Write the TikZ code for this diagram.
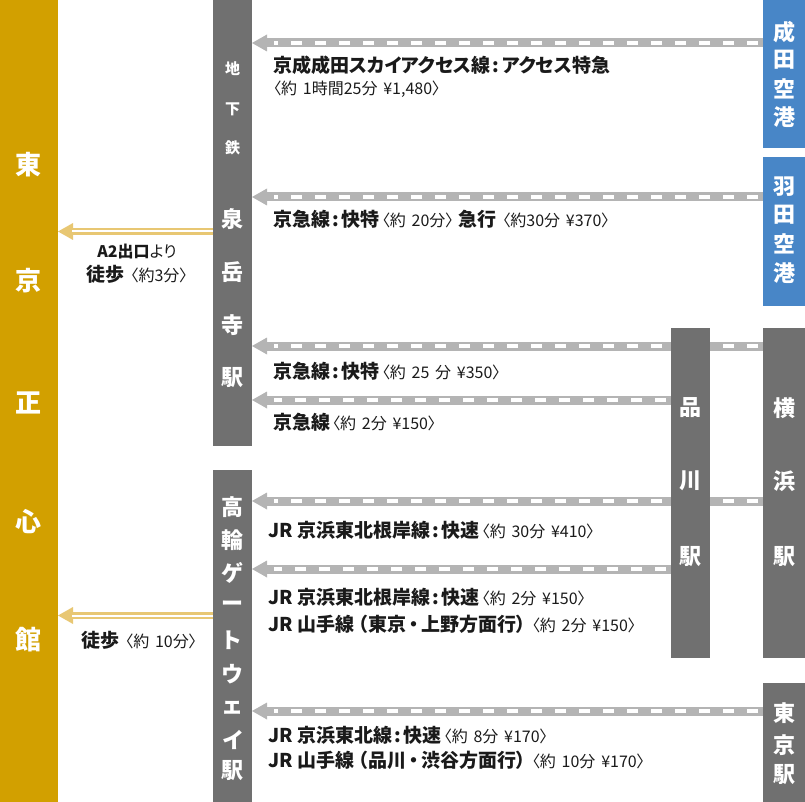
\documentclass[tikz,border=0pt]{standalone}
\usepackage{fontspec}
\setmainfont{Noto Sans CJK JP}[RawFeature=+palt]
\usetikzlibrary{arrows.meta}
\definecolor{goldbar}{RGB}{210,160,0}
\definecolor{stgray}{RGB}{112,112,112}
\definecolor{apblue}{RGB}{72,134,199}
\definecolor{railgray}{RGB}{180,180,180}
\definecolor{walkgold}{RGB}{232,199,115}
\definecolor{txtc}{RGB}{26,26,26}
\pgfdeclarelayer{bg}
\pgfsetlayers{bg,main}
\newcommand\tkB[1]{{\bfseries\fontsize{19}{21}\selectfont #1}}
\newcommand\tkS[1]{{\mdseries\fontsize{16}{18}\selectfont\spaceskip=0.36em\relax #1}}
\newcommand\tkWB[1]{{\bfseries\fontsize{16}{18}\selectfont #1}}
\newcommand\tkWS[1]{{\mdseries\fontsize{16}{18}\selectfont #1}}
\newcommand\tkcolon{\kern2.5pt:\kern2.5pt}
\newcommand\tkdot{\kern3pt・\kern3pt}
\tikzset{
  bar/.style={draw=none, inner sep=0pt, outer sep=0pt, anchor=north west},
  graybar/.style={bar, fill=stgray},
  bluebar/.style={bar, fill=apblue},
  goldrect/.style={bar, fill=goldbar},
  vt/.style={text=white, inner sep=0pt, font=\bfseries\fontsize{22}{22}\selectfont},
  vtsmall/.style={text=white, inner sep=0pt, font=\bfseries\fontsize{15}{15}\selectfont},
  vtgold/.style={text=white, inner sep=0pt, font=\bfseries\fontsize{26}{26}\selectfont},
  lbl/.style={inner sep=0pt, anchor=base west, text=txtc},
  lblc/.style={inner sep=0pt, anchor=base, text=txtc},
  rail/.style={draw=railgray, line width=9pt, -{Triangle[length=15pt,width=17pt,line width=0pt]}},
  raildash/.style={draw=white, line width=3.5pt, dash pattern=on 11pt off 13pt, shorten >=22pt, shorten <=5pt},
  walk/.style={draw=walkgold, line width=7pt, -{Triangle[length=15pt,width=17pt,line width=0pt]}},
  walkgap/.style={draw=white, line width=2pt, shorten >=14pt},
}
\newcommand\railline[3]{%
  \draw[rail] (#1 |- 0,#3) -- (#2 |- 0,#3);
  \draw[raildash] (#1 |- 0,#3) -- (#2 |- 0,#3);}
\begin{document}
\begin{tikzpicture}[x=1pt, y=-1pt]
\useasboundingbox (0,0) rectangle (805,802);
% bars
\node[goldrect, minimum width=58pt, minimum height=802pt] (tsk) at (0,0) {};
\node[graybar, minimum width=39pt, minimum height=446pt] (sen) at (213,0) {};
\node[graybar, minimum width=39pt, minimum height=332pt] (tkg) at (213,470) {};
\node[graybar, minimum width=39pt, minimum height=330pt] (shn) at (671,328) {};
\node[graybar, minimum width=42pt, minimum height=330pt] (yok) at (763,328) {};
\node[graybar, minimum width=42pt, minimum height=119pt] (tok) at (763,683) {};
\node[bluebar, minimum width=42pt, minimum height=148pt] (nar) at (763,0) {};
\node[bluebar, minimum width=42pt, minimum height=149pt] (han) at (763,157) {};
% vertical texts
\foreach \ch/\yy [count=\i] in {東/165, 京/281, 正/403, 心/522, 館/640}
  \node[vtgold] (g\i) at (29,\yy) {\ch};
\foreach \ch/\yy [count=\i] in {地/69, 下/109, 鉄/148}
  \node[vtsmall] (s\i) at (232.5,\yy) {\ch};
\foreach \ch/\yy [count=\i] in {泉/219, 岳/272, 寺/325, 駅/378}
  \node[vt] (sb\i) at (232.5,\yy) {\ch};
\foreach \ch/\yy [count=\i] in {高/507, 輪/540, ゲ/573, ー/606, ト/640, ウ/674, ェ/708, イ/740, 駅/771}
  \node[vt] (t\i) at (232.5,\yy) {\ch};
\foreach \ch/\yy [count=\i] in {品/408, 川/481, 駅/557}
  \node[vt] (sh\i) at (690.5,\yy) {\ch};
\foreach \ch/\yy [count=\i] in {横/408, 浜/481, 駅/557}
  \node[vt] (y\i) at (784,\yy) {\ch};
\foreach \ch/\yy [count=\i] in {東/713, 京/745, 駅/775}
  \node[vt] (k\i) at (784,\yy) {\ch};
\foreach \ch/\yy [count=\i] in {成/32, 田/60, 空/89, 港/117}
  \node[vt] (n\i) at (784,\yy) {\ch};
\foreach \ch/\yy [count=\i] in {羽/187, 田/215, 空/244, 港/273}
  \node[vt] (h\i) at (784,\yy) {\ch};
% rails
\begin{pgfonlayer}{bg}
\railline{nar.west}{sen.east}{43}
\railline{han.west}{sen.east}{197}
\railline{yok.west}{sen.east}{346}
\railline{shn.west}{sen.east}{400}
\railline{yok.west}{tkg.east}{501}
\railline{shn.west}{tkg.east}{569}
\railline{tok.west}{tkg.east}{711}
\end{pgfonlayer}
% walking
\draw[walk] (sen.west |- 0,231.5) -- (tsk.east |- 0,231.5);
\draw[walkgap] (sen.west |- 0,231.5) -- (tsk.east |- 0,231.5);
\draw[walk] (tkg.west |- 0,615.5) -- (tsk.east |- 0,615.5);
\draw[walkgap] (tkg.west |- 0,615.5) -- (tsk.east |- 0,615.5);
% labels
\node[lbl] (l1) at (273,73) {\tkB{京成成田スカイアクセス線\tkcolon アクセス特急}};
\node[lbl] (l1b) at (273,95) {\tkS{〈約 1時間25分 ¥1,480〉}};
\node[lbl] (l2) at (273,226) {\tkB{京急線\tkcolon 快特}\kern2pt\tkS{〈約 20分〉}\kern5pt\tkB{急行}\kern6pt\tkS{〈約30分 ¥370〉}};
\node[lblc] (w1a) at (137,258) {\tkWB{A2出口}\tkWS{より}};
\node[lblc] (w1b) at (137,281) {\tkB{徒歩}\kern6pt\tkS{〈約3分〉}};
\node[lbl] (l3) at (273,378) {\tkB{京急線\tkcolon 快特}\kern2pt\tkS{〈約 25 分 ¥350〉}};
\node[lbl] (l4) at (273,429) {\tkB{京急線}\kern2pt\tkS{〈約 2分 ¥150〉}};
\node[lbl] (l5) at (268,537) {\tkB{JR 京浜東北根岸線\tkcolon 快速}\kern2pt\tkS{〈約 30分 ¥410〉}};
\node[lbl] (l6) at (268,604) {\tkB{JR 京浜東北根岸線\tkcolon 快速}\kern2pt\tkS{〈約 2分 ¥150〉}};
\node[lbl] (l7) at (268,631) {\tkB{JR 山手線 （東京\tkdot 上野方面行）}\kern6pt\tkS{〈約 2分 ¥150〉}};
\node[lblc] (w2) at (139,647) {\tkB{徒歩}\kern6pt\tkS{〈約 10分〉}};
\node[lbl] (l8) at (268,742) {\tkB{JR 京浜東北線\tkcolon 快速}\kern2pt\tkS{〈約 8分 ¥170〉}};
\node[lbl] (l9) at (268,767) {\tkB{JR 山手線 （品川\tkdot 渋谷方面行）}\kern6pt\tkS{〈約 10分 ¥170〉}};
\end{tikzpicture}
\end{document}
